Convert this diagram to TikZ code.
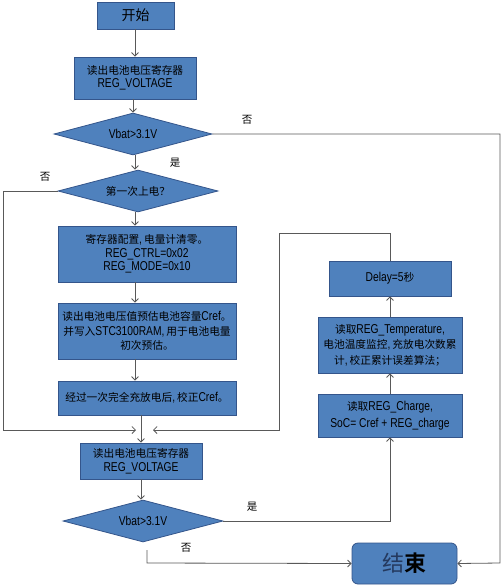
\documentclass[tikz,border=0pt]{standalone}
\usepackage{fontspec}
\setmainfont{Liberation Sans}[FakeStretch=0.8,Scale=1.2]
\newfontfamily\cjk{Noto Sans CJK SC}[BoldFont={Noto Sans CJK SC Bold}]
\newcommand\zh[1]{{\cjk #1}}
\newcommand\cm{,\hspace{2pt}}
\usetikzlibrary{shapes.geometric,arrows.meta}
\definecolor{boxfill}{HTML}{4F81BD}
\definecolor{boxline}{HTML}{34558B}
\definecolor{linec}{HTML}{595959}
\definecolor{endc}{HTML}{24395E}
\begin{document}
\begin{tikzpicture}[x=1pt,y=-1pt,
  box/.style={draw=boxline,fill=boxfill,line width=0.8pt,inner sep=1pt,align=center,font=\fontsize{10.7}{13.5}\selectfont},
  dia/.style={diamond,draw=boxline,fill=boxfill,line width=0.8pt,inner sep=0pt,aspect=3.8,font=\fontsize{10.7}{13.5}\selectfont},
  ln/.style={draw=linec,line width=0.8pt},
  arr/.style={ln,-{Straight Barb[length=3.5pt,width=7pt]}},
  lab/.style={font=\fontsize{10.5}{12}\selectfont\cjk}]
\useasboundingbox (0,0) rectangle (502,585);
\coordinate (col) at (135,0);
\coordinate (col2) at (141,0);
% left column
\node[box,minimum width=77pt,minimum height=27pt,font=\fontsize{14}{16}\selectfont] (start) at (135.5,15.5) {\zh{开始}};
\node[box,minimum width=122pt,minimum height=42pt] (r1) at (135,78) {\zh{读出电池电压寄存器}\\REG\_VOLTAGE};
\node[dia,minimum width=158pt,minimum height=42pt] (d1) at (133,134) {Vbat>3.1V};
\node[dia,minimum width=160pt,minimum height=42pt] (d2) at (138,191) {\zh{第一次上电？}};
\node[box,minimum width=178pt,minimum height=56pt] (b3) at (147,254) {\zh{寄存器配置}\cm\zh{电量计清零。}\\REG\_CTRL=0x02\\REG\_MODE=0x10};
\node[box,minimum width=178pt,minimum height=56pt,font=\fontsize{10.7}{14.5}\selectfont] (b4) at (147,331) {\zh{读出电池电压值预估电池容量}Cref\zh{。}\\\zh{并写入}STC3100RAM\cm\zh{用于电池电量}\\\zh{初次预估。}};
\node[box,minimum width=178pt,minimum height=34pt] (b5) at (147,398) {\zh{经过一次完全充放电后}\cm\zh{校正}Cref\zh{。}};
\node[box,minimum width=122pt,minimum height=36pt] (r2) at (141,461) {\zh{读出电池电压寄存器}\\REG\_VOLTAGE};
\node[dia,minimum width=160pt,minimum height=42pt] (d3) at (143,521) {Vbat>3.1V};
% right column
\node[box,minimum width=122pt,minimum height=35pt] (delay) at (390,278.5) {Delay=5\zh{秒}};
\node[box,minimum width=144pt,minimum height=56pt,font=\fontsize{10.7}{15.5}\selectfont] (temp) at (390,345) {\zh{读取}REG\_Temperature,\\\zh{电池温度监控}\cm\zh{充放电次数累}\\\zh{计}\cm\zh{校正累计误差算法；}};
\node[box,minimum width=144pt,minimum height=43pt,font=\fontsize{10.7}{17}\selectfont] (charge) at (390,415.5) {\zh{读取}REG\_Charge,\\SoC= Cref + REG\_charge};
\node[box,rounded corners=6pt,minimum width=105pt,minimum height=41pt,font=\fontsize{22}{24}\selectfont\cjk] (endb) at (404.5,563.5) {\textcolor{endc}{结}\textbf{束}};
% labels
\node[lab] (l1) at (247,120) {否};
\node[lab] (l2) at (175,163) {是};
\node[lab] (l3) at (45,177) {否};
\node[lab] (l4) at (252,507) {是};
\node[lab] (l5) at (186,548) {否};
% helper coordinates
\coordinate (rtop) at (500,134);
\coordinate (rbot) at (500,563);
\coordinate (ltop) at (3,191);
\coordinate (lbot) at (3,430);
\coordinate (mL) at (136,430);
\coordinate (mR) at (153,430);
\coordinate (lp1) at (390,233);
\coordinate (lp2) at (279,233);
\coordinate (lp3) at (279,430);
\coordinate (ye) at (390,521);
\coordinate (n1) at (147,550);
\coordinate (n2) at (147,563);
% connectors
\draw[arr] (start.south -| col) -- (r1.north -| col);
\draw[arr] (r1.south -| d1.north) -- (d1.north);
\draw[arr] (d1.south -| col) -- (d2.north -| col);
\draw[arr] (d2.south -| col) -- (b3.north -| col);
\draw[arr] (b3.south -| col) -- (b4.north -| col);
\draw[arr] (b4.south -| col) -- (b5.north -| col);
\draw[arr] (b5.south -| col2) -- (r2.north -| col2);
\draw[arr] (r2.south -| col2) -- (d3.north -| col2);
\draw[arr] (d1.east) -- (rtop) -- (rbot) -- (endb.east);
\draw[arr] (d2.west) -- (ltop) -- (lbot) -- (mL);
\draw[arr] (delay.north) -- (lp1) -- (lp2) -- (lp3) -- (mR);
\draw[arr] (charge.north) -- (temp.south);
\draw[arr] (temp.north) -- (delay.south);
\draw[arr] (d3.east) -- (ye) -- (charge.south);
\draw[arr] (n1) -- (n2) -- (endb.west);
\end{tikzpicture}
\end{document}
